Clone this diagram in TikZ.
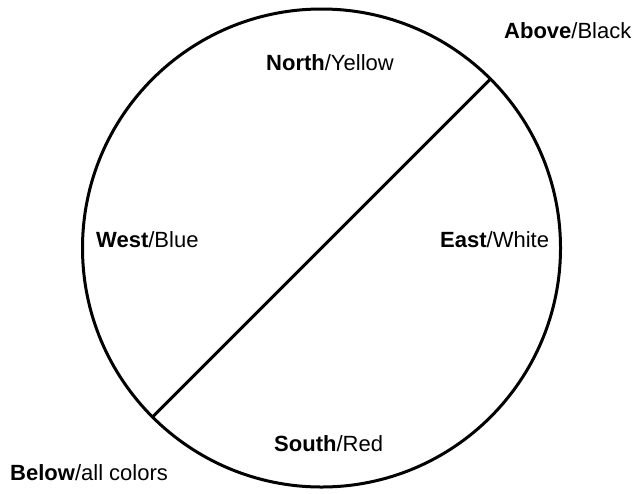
\documentclass[tikz,border=0pt]{standalone}
\usepackage{fontspec}
\setmainfont{Liberation Sans}
\usetikzlibrary{positioning}

\begin{document}
\begin{tikzpicture}[
  x=1pt, y=-1pt,
  wheel/.style={draw=black, line width=3pt, circle, minimum size=478pt,
                inner sep=0pt, outer sep=0pt},
  dir/.style={anchor=base west, inner sep=0pt, font=\fontsize{22}{26}\selectfont},
  split/.style={draw=black, line width=3pt}]
  \useasboundingbox (0,0) rectangle (639,493);
  \node[wheel] (wheel) at (321.5,248) {};
  \draw[split] (wheel.45) -- (wheel.225);
  \node[dir] (above) at (504,38) {\textbf{Above}/Black};
  \node[dir] (north) at (266,70) {\textbf{North}/Yellow};
  \node[dir] (west) at (96,247) {\textbf{West}/Blue};
  \node[dir] (east) at (440,247) {\textbf{East}/White};
  \node[dir] (south) at (274,451) {\textbf{South}/Red};
  \node[dir] (below) at (10,480) {\textbf{Below}/all colors};
\end{tikzpicture}
\end{document}
